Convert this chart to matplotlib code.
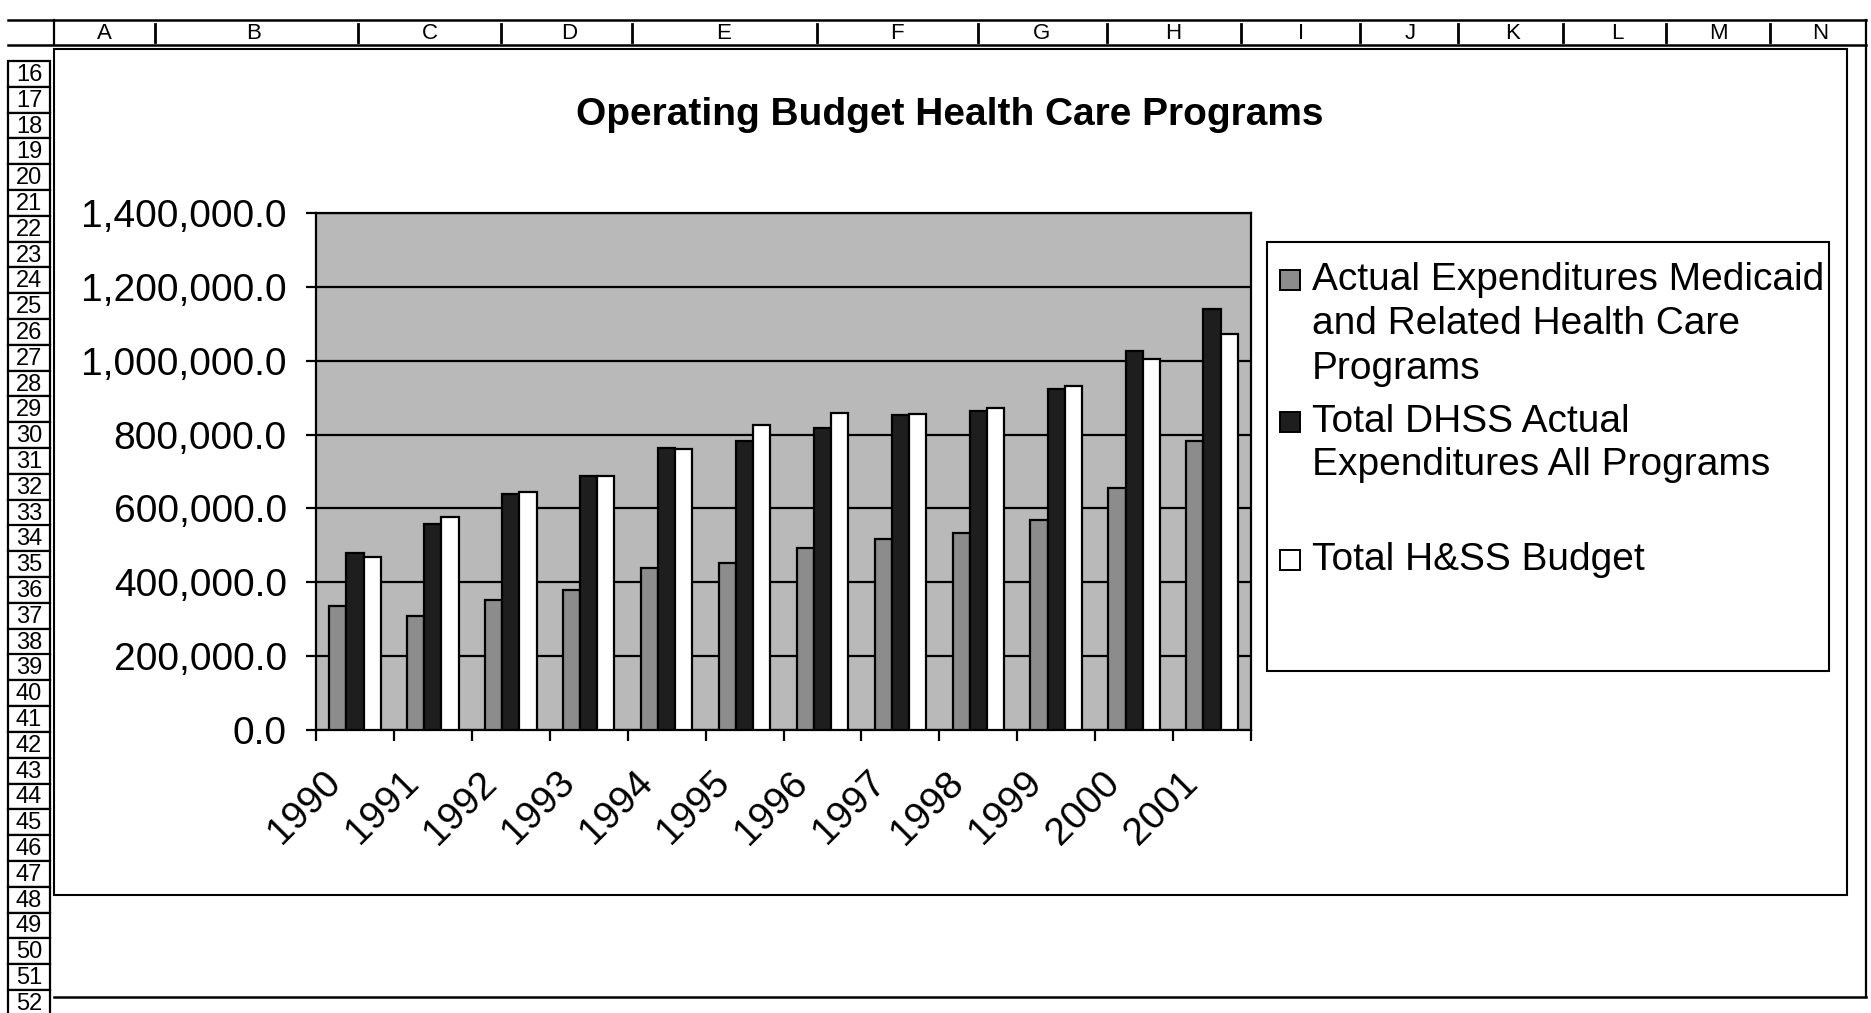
import numpy as np
import matplotlib.pyplot as plt
import matplotlib.transforms as mtransforms
from matplotlib.patches import Rectangle
from matplotlib.lines import Line2D

plt.rcParams['font.family'] = ['Liberation Sans', 'DejaVu Sans']

W, H = 1871, 1013

years = ["1990", "1991", "1992", "1993", "1994", "1995",
         "1996", "1997", "1998", "1999", "2000", "2001"]
medicaid = [337000, 308000, 351000, 380000, 438000, 453000,
            492000, 518000, 533000, 569000, 655000, 782000]
dhss_total = [480000, 559000, 639000, 689000, 764000, 782000,
              817000, 853000, 863000, 923000, 1026000, 1139000]
hss_budget = [469000, 578000, 644000, 689000, 761000, 825000,
              859000, 856000, 872000, 932000, 1004000, 1071000]

series_labels = [
    ["Actual Expenditures Medicaid", "and Related Health Care", "Programs"],
    ["Total DHSS Actual", "Expenditures All Programs"],
    ["Total H&SS Budget"],
]
series_colors = ["#8c8c8c", "#1e1e1e", "#ffffff"]

col_letters = list("ABCDEFGHIJKLMN")
row_numbers = list(range(16, 53))


def fx(px):
    return px / W


def fy(py):
    # pixel rows counted from the top
    return 1 - py / H


fig = plt.figure(figsize=(W / 100, H / 100), dpi=100)
fig.patch.set_facecolor("white")

# ---- spreadsheet frame -------------------------------------------------
col_x = [104, 254, 430, 569, 724, 897, 1042, 1173, 1301, 1410, 1513, 1617, 1718, 1820]
col_sep = [155, 358, 501, 632, 817, 978, 1107, 1241, 1360, 1458, 1563, 1666, 1770]
hdr_top, hdr_bot = 20, 45
fig.add_artist(Line2D([fx(8), fx(1866)], [fy(hdr_top)] * 2, color="black", lw=1.8))
fig.add_artist(Line2D([fx(8), fx(1866)], [fy(hdr_bot)] * 2, color="black", lw=1.8))
fig.add_artist(Line2D([fx(54)] * 2, [fy(hdr_top), fy(hdr_bot)], color="black", lw=1.6))
for x in col_sep:
    fig.add_artist(Line2D([fx(x)] * 2, [fy(hdr_top + 4), fy(hdr_bot - 3)],
                          color="black", lw=2.0))
for x, c in zip(col_x, col_letters):
    fig.text(fx(x), fy((hdr_top + hdr_bot) / 2 + 1), c, ha="center", va="center",
             fontsize=16)

row_h = 25.8
for i, r in enumerate(row_numbers):
    yc = 74 + i * row_h
    fig.add_artist(Rectangle((fx(8), fy(yc + row_h / 2)), fx(42), row_h / H,
                             facecolor="white", edgecolor="black", lw=1.6))
    fig.text(fx(29), fy(yc + 1), str(r), ha="center", va="center", fontsize=17)

# outer sheet edge
fig.add_artist(Line2D([fx(54), fx(1866)], [fy(997)] * 2, color="black", lw=1.8))
fig.add_artist(Line2D([fx(1866)] * 2, [fy(hdr_top), fy(997)], color="black", lw=1.6))

# chart area box
fig.add_artist(Rectangle((fx(54), fy(895)), fx(1847 - 54), (895 - 49) / H,
                         facecolor="none", edgecolor="black", lw=1.5))

# ---- chart ----------------------------------------------------------
fig.text(fx(950), fy(115), "Operating Budget Health Care Programs",
         ha="center", va="center", fontsize=28, fontweight="bold")

ax = fig.add_axes([fx(316), fy(730), fx(1251 - 316), (730 - 213) / H])
ax.set_facecolor("#b9b9b9")

x = np.arange(len(years))
bw = 0.22
for k, (vals, col) in enumerate(zip([medicaid, dhss_total, hss_budget], series_colors)):
    ax.bar(x + (k - 1) * bw, vals, width=bw, color=col, edgecolor="black",
           lw=1.6, zorder=3)

ax.set_xlim(-0.5, len(years) - 0.5)
ax.set_ylim(0, 1400000)
ax.set_yticks(np.arange(0, 1400001, 200000))
ax.set_yticklabels([f"{v:,.1f}" for v in np.arange(0, 1400001, 200000)])
ax.yaxis.grid(True, color="black", lw=1.6, zorder=1)
ax.set_axisbelow(True)

ax.set_xticks(np.arange(-0.5, len(years), 1.0))
ax.set_xticklabels([])
ax.set_xticks(x, minor=True)
ax.set_xticklabels(years, minor=True, rotation=45, ha="right", va="center",
                   rotation_mode="anchor")
ax.tick_params(axis="x", which="major", direction="out", length=8, width=1.6)
ax.tick_params(axis="x", which="minor", length=0, pad=34, labelsize=28)
ax.tick_params(axis="y", direction="out", length=7, width=1.6, pad=14,
               labelsize=28)
shift = mtransforms.ScaledTranslation(-0.20, 0, fig.dpi_scale_trans)
for lab in ax.get_xticklabels(minor=True):
    lab.set_transform(lab.get_transform() + shift)
for s in ax.spines.values():
    s.set_linewidth(1.6)
    s.set_color("black")

# ---- legend -----------------------------------------------------------
fig.add_artist(Rectangle((fx(1267), fy(671)), fx(1829 - 1267), (671 - 242) / H,
                         facecolor="white", edgecolor="black", lw=1.5))
entry_y = [[280, 324, 369], [422, 465], [560]]
for lines, ys, col in zip(series_labels, entry_y, series_colors):
    fig.add_artist(Rectangle((fx(1280), fy(ys[0] + 10)), fx(20), 20 / H,
                             facecolor=col, edgecolor="black", lw=1.4))
    for t, yy in zip(lines, ys):
        fig.text(fx(1312), fy(yy), t, ha="left", va="center", fontsize=28)

fig.savefig("out.png", dpi=100)
